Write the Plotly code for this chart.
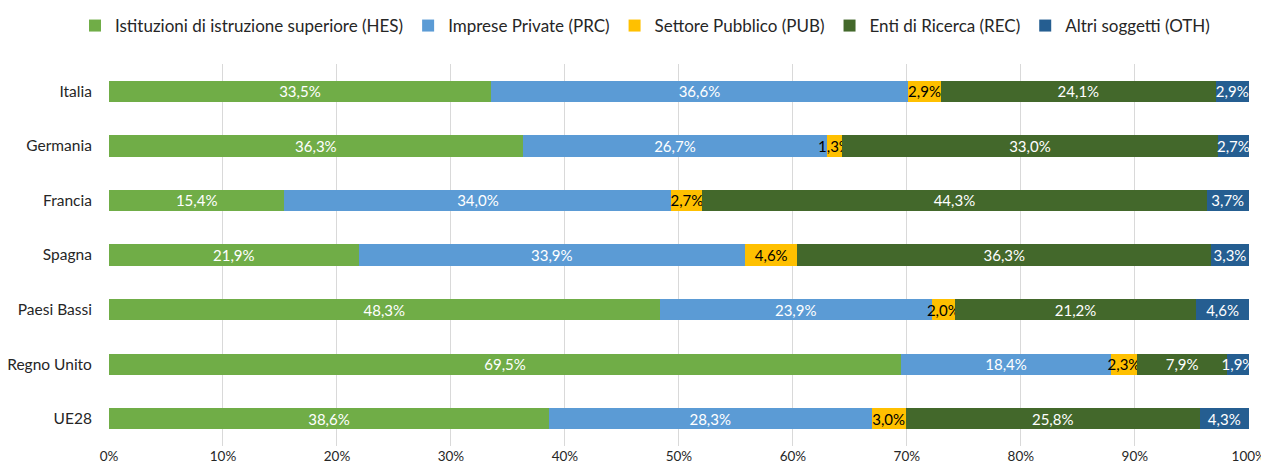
import plotly.graph_objects as go

countries = ["Italia", "Germania", "Francia", "Spagna", "Paesi Bassi", "Regno Unito", "UE28"]
series_names = [
    "Istituzioni di istruzione superiore (HES)",
    "Imprese Private (PRC)",
    "Settore Pubblico (PUB)",
    "Enti di Ricerca (REC)",
    "Altri soggetti (OTH)",
]
hes = [33.5, 36.3, 15.4, 21.9, 48.3, 69.5, 38.6]
prc = [36.6, 26.7, 34.0, 33.9, 23.9, 18.4, 28.3]
pub = [2.9, 1.3, 2.7, 4.6, 2.0, 2.3, 3.0]
rec = [24.1, 33.0, 44.3, 36.3, 21.2, 7.9, 25.8]
oth = [2.9, 2.7, 3.7, 3.3, 4.6, 1.9, 4.3]
tick_vals = [0, 10, 20, 30, 40, 50, 60, 70, 80, 90, 100]
tick_text = ["0%", "10%", "20%", "30%", "40%", "50%", "60%", "70%", "80%", "90%", "100%"]

colors = ["#70AD47", "#5B9BD5", "#FFC000", "#43682B", "#255E91"]
text_colors = ["white", "white", "black", "white", "white"]

FONT = "Lato"
W, H = 1261, 465  # page body adds 8px offset

def fmt(v):
    return f"{v:.1f}%".replace(".", ",")

fig = go.Figure()
for name, vals, col, tcol in zip(series_names, [hes, prc, pub, rec, oth], colors, text_colors):
    fig.add_trace(go.Bar(
        y=countries, x=vals, name=name, orientation="h",
        marker=dict(color=col, line=dict(width=0)),
        text=[fmt(v) for v in vals], textposition="inside", insidetextanchor="middle",
        textangle=0, cliponaxis=False, constraintext="none",
        textfont=dict(color=tcol, size=15, family=FONT),
    ))

fig.update_layout(
    barmode="stack", barnorm="percent", bargap=0.61,
    width=W, height=H,
    margin=dict(l=101, r=20, t=56, b=27, autoexpand=False),
    paper_bgcolor="white", plot_bgcolor="white",
    font=dict(family=FONT, size=15, color="#262626"),
    uniformtext=dict(minsize=15, mode="show"),
    legend=dict(orientation="h", x=637 / W, xanchor="center", xref="container",
                y=1 - 18 / H, yanchor="middle",
                yref="container", font=dict(size=17, family=FONT), traceorder="normal",
                itemwidth=30),
    xaxis=dict(range=[0, 100.02], tickvals=tick_vals, ticktext=tick_text,
               showgrid=True, gridcolor="#D9D9D9", gridwidth=1, zeroline=False,
               showline=False, ticks="", automargin=False, ticklabeloverflow="allow",
               tickfont=dict(size=13.5, family=FONT)),
    yaxis=dict(categoryorder="array", categoryarray=countries[::-1], autorange=True,
               showgrid=False, ticks="outside", ticklen=13, tickcolor="rgba(0,0,0,0)",
               automargin=False, tickfont=dict(size=15.5, family=FONT)),
)
fig.write_html("out.html")
